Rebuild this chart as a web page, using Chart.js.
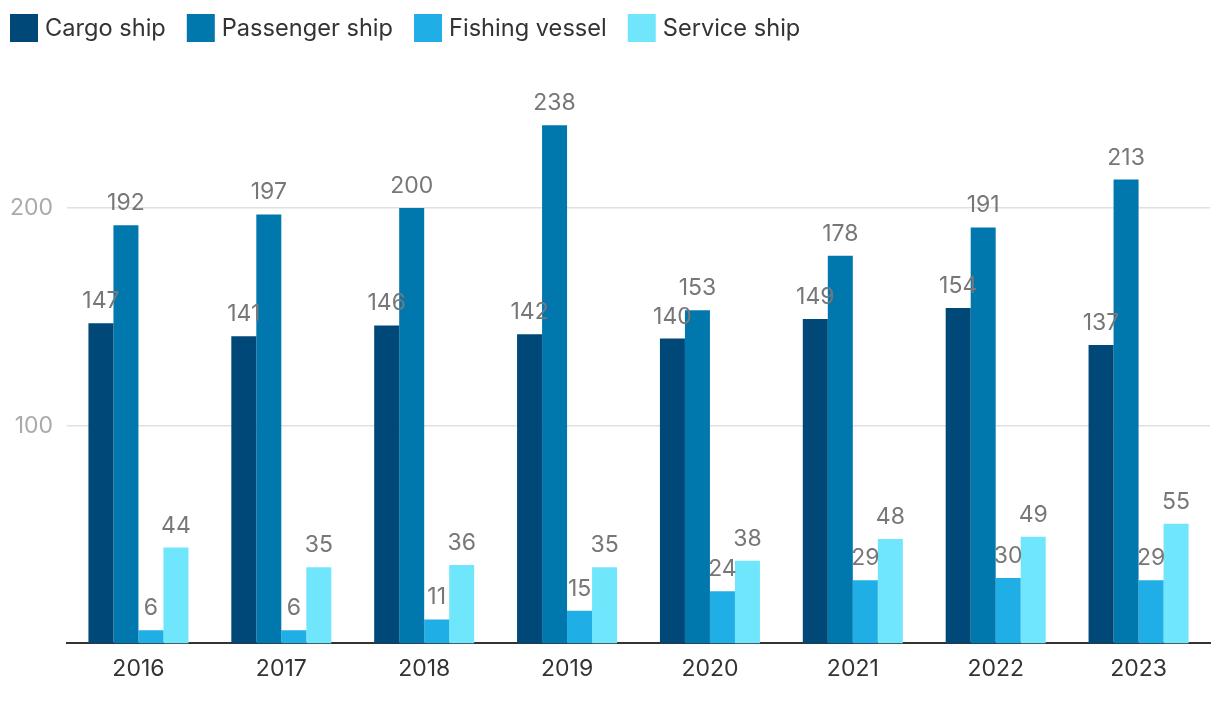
<!DOCTYPE html>
<html><head><meta charset="utf-8">
<script src="https://cdn.jsdelivr.net/npm/chart.js@4/dist/chart.umd.min.js"></script>
<style>html,body{margin:0;padding:0;background:#fff}#wrap{width:1220px;height:702px}</style>
</head><body><div id="wrap"><canvas id="c"></canvas></div>
<script>
const categories = ['2016','2017','2018','2019','2020','2021','2022','2023'];
const cargoShip = [147,141,146,142,140,149,154,137];
const passengerShip = [192,197,200,238,153,178,191,213];
const fishingVessel = [6,6,11,15,24,29,30,29];
const serviceShip = [44,35,36,35,38,48,49,55];
const yTickValues = [100,200];

const labelPlugin = {
  id:'barLabels',
  afterDatasetsDraw(chart){
    const ctx = chart.ctx;
    ctx.save();
    ctx.font = '23px Inter';
    ctx.fillStyle = '#777777';
    ctx.textAlign = 'center';
    ctx.textBaseline = 'alphabetic';
    chart.data.datasets.forEach((ds,i)=>{
      const meta = chart.getDatasetMeta(i);
      meta.data.forEach((bar,j)=>{
        ctx.fillText(String(ds.data[j]), bar.x, bar.y - 15);
      });
    });
    ctx.restore();
  }
};

const legendPlugin = {
  id:'customLegend',
  afterDraw(chart){
    const ctx = chart.ctx;
    ctx.save();
    ctx.font = '23.6px Inter';
    ctx.textBaseline = 'middle';
    ctx.textAlign = 'left';
    let x = 10;
    const y = 14, box = 28;
    chart.data.datasets.forEach(ds=>{
      ctx.fillStyle = ds.backgroundColor;
      ctx.fillRect(x, y, box, box);
      ctx.fillStyle = '#333333';
      const tx = x + box + 7;
      ctx.fillText(ds.label, tx, y + box/2 + 1);
      x = tx + ctx.measureText(ds.label).width + 21;
    });
    ctx.restore();
  }
};

new Chart(document.getElementById('c'), {
  type:'bar',
  data:{
    labels:categories,
    datasets:[
      {label:'Cargo ship', data:cargoShip, backgroundColor:'#004878'},
      {label:'Passenger ship', data:passengerShip, backgroundColor:'#0078ae'},
      {label:'Fishing vessel', data:fishingVessel, backgroundColor:'#20aee6'},
      {label:'Service ship', data:serviceShip, backgroundColor:'#70e6fc'}
    ]
  },
  options:{
    responsive:true, maintainAspectRatio:false, animation:false,
    layout:{padding:{left:11,right:10,top:99,bottom:7}},
    datasets:{bar:{categoryPercentage:0.7, barPercentage:1.0}},
    plugins:{
      legend:{display:false},
      tooltip:{enabled:false}
    },
    scales:{
      x:{grid:{display:false, drawTicks:false}, border:{display:true,color:'#333333',width:2},
         ticks:{font:{family:'Inter',size:23}, color:'#333333', padding:12}},
      y:{min:0,max:250,
         afterBuildTicks(s){ s.ticks = yTickValues.map(v=>({value:v})); },
         afterFit(s){ s.width = 56; },
         grid:{color:'#e0e0e0', lineWidth:1.5, drawTicks:false}, border:{display:false},
         ticks:{font:{family:'Inter',size:23}, color:'#aaaaaa', padding:14}}
    }
  },
  plugins:[labelPlugin, legendPlugin]
});
</script></body></html>
